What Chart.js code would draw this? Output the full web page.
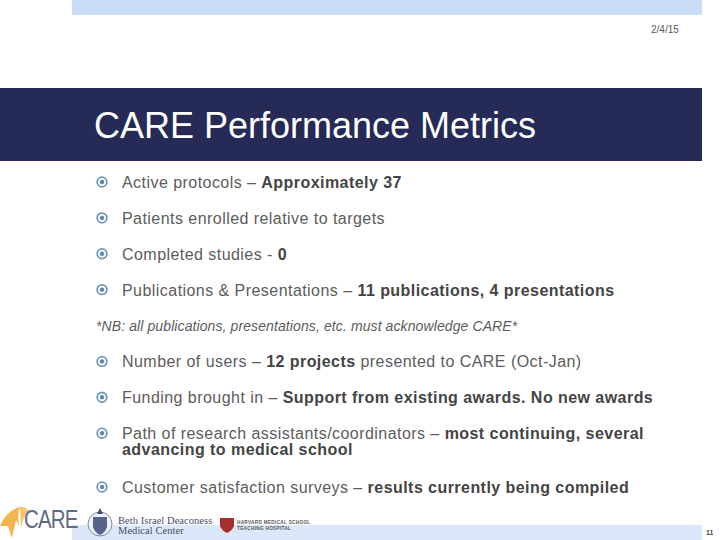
<!DOCTYPE html>
<html>
<head>
<meta charset="utf-8">
<title>CARE Performance Metrics</title>
<script src="https://cdn.jsdelivr.net/npm/chart.js@4/dist/chart.umd.min.js"></script>
<style>
  html, body { margin: 0; padding: 0; background: #fff; }
  #slide { position: relative; width: 720px; height: 540px; overflow: hidden; font-family: "Liberation Sans", Arial, sans-serif; }
  #slide div { position: absolute; }
  #bullets { left: 0; top: 0; z-index: 2; }
  #band-top { left: 72px; top: 0; width: 630px; height: 15px; background: #c9ddf9; }
  #band-title { left: 0; top: 88px; width: 702px; height: 73px; background: #252a57; }
  #band-bottom { left: 72px; top: 525px; width: 630px; height: 15px; background: #dce8fa; }
  #title { left: 94px; top: 106px; color: #fff; font-size: 36px; line-height: 40px; white-space: nowrap; }
  #date { left: 651px; top: 24px; color: #595959; font-size: 10px; line-height: 11px; }
  #page { left: 706px; top: 529px; color: #444; font-size: 7px; font-weight: bold; line-height: 8px; }
  .row { left: 122px; color: #5c5c5c; font-size: 16px; line-height: 16px; white-space: nowrap; letter-spacing: 0.45px; }
  .row b { color: #444; letter-spacing: 0.45px; }
  #slide .note { left: 96px; font-size: 14px; font-style: italic; letter-spacing: 0.1px; }
  #care { left: 24px; top: 506px; color: #5f6a86; font-size: 25px; line-height: 26px; letter-spacing: -1px; transform: scaleX(0.82); transform-origin: left top; }
  #bidmc { left: 118px; top: 516px; color: #444d70; font-family: "Liberation Serif", serif; font-size: 10.5px; line-height: 10px; white-space: nowrap; letter-spacing: 0.05px; }
  #hms { left: 237px; top: 520px; color: #555; font-size: 4.7px; line-height: 6px; font-weight: bold; white-space: nowrap; letter-spacing: 0.3px; }
  svg { position: absolute; left: 0; top: 0; }
</style>
</head>
<body>
<div id="slide">
  <div id="band-top"></div>
  <div id="band-title"></div>
  <div id="band-bottom"></div>
  <div id="date"></div>
  <div id="title"></div>
  <div id="page"></div>
  <svg width="720" height="540">
    <path d="M0 526 Q6 511 20 507 Q17 515 19 526 L16 520 L12 538 L8 526 Z" fill="#f4b452"/>
    <path d="M20 507 Q25 506 30 512 Q23 515 21 528 Z" fill="#f6c46c"/>
    <circle cx="100" cy="524" r="12" fill="#eef1f6" stroke="#7d88a6" stroke-width="1"/>
    <path d="M93 517 H107 V527 Q105 533 100 535 Q95 533 93 527 Z" fill="#56628a"/>
    <path d="M100 508 L103 514 H97 Z" fill="#444d70"/>
    <path d="M220 518 H234 V526 Q232 531 227 533 Q222 531 220 526 Z" fill="#a5302f"/>
  </svg>
  <div id="care">CARE</div>
  <div id="bidmc">Beth Israel Deaconess<br>Medical Center</div>
  <div id="hms">HARVARD MEDICAL SCHOOL<br>TEACHING HOSPITAL</div>
  <div id="text-rows"></div>
  <div id="bullets"><canvas id="bullet-chart" width="720" height="540"></canvas></div>
</div>
<script>
const slideTitle = 'CARE Performance Metrics';
const slideDate = '2/4/15';
const slideNumber = '11';

// text of each line, bold part separate. row = half line steps from the first line
const rowNumbers = [0, 2, 4, 6, 8, 10, 12, 14, 14.9, 17];
const rowPlain = [
  'Active protocols – ',
  'Patients enrolled relative to targets',
  'Completed studies - ',
  'Publications & Presentations – ',
  '*NB: all publications, presentations, etc. must acknowledge CARE*',
  'Number of users – ',
  'Funding brought in – ',
  'Path of research assistants/coordinators – ',
  '',
  'Customer satisfaction surveys – '
];
const rowBold = [
  'Approximately 37',
  '',
  '0',
  '11 publications, 4 presentations',
  '',
  '12 projects',
  'Support from existing awards. No new awards',
  'most continuing, several',
  'advancing to medical school',
  'results currently being compiled'
];
const rowTail = ['', '', '', '', '', ' presented to CARE (Oct-Jan)', '', '', '', ''];
// rows with a bullet in front
const bulletRows = [0, 2, 4, 6, 10, 12, 14, 17];

document.getElementById('title').textContent = slideTitle;
document.getElementById('date').textContent = slideDate;
document.getElementById('page').textContent = slideNumber;

const firstRowY = 182;
const lastRowY = 487;
const rowStep = (lastRowY - firstRowY) / 17;
const textRows = document.getElementById('text-rows');
rowNumbers.forEach((row, i) => {
  const el = document.createElement('div');
  el.className = row === 8 ? 'row note' : 'row';
  el.style.top = (firstRowY + row * rowStep - (row === 8 ? 8 : 7)) + 'px';
  el.append(rowPlain[i]);
  if (rowBold[i]) {
    const b = document.createElement('b');
    b.textContent = rowBold[i];
    el.appendChild(b);
  }
  el.append(rowTail[i]);
  textRows.appendChild(el);
});

const bulletPoints = bulletRows.map(row => ({ x: 0, y: row }));

new Chart(document.getElementById('bullet-chart'), {
  type: 'scatter',
  data: {
    datasets: [
      { data: bulletPoints, pointRadius: 2.2, pointBackgroundColor: '#5d86ab', pointBorderWidth: 0, pointHoverRadius: 2.2 },
      { data: bulletPoints, pointRadius: 4.8, pointBackgroundColor: 'rgba(0,0,0,0)', pointBorderColor: '#6f97ba', pointBorderWidth: 1.8 }
    ]
  },
  options: {
    responsive: false,
    animation: false,
    events: [],
    layout: { padding: { left: 102, right: 32, top: firstRowY, bottom: 540 - lastRowY } },
    plugins: { legend: { display: false }, tooltip: { enabled: false } },
    scales: {
      x: { display: false, min: 0, max: 1 },
      y: { display: false, min: 0, max: 17, reverse: true }
    },
    clip: false
  }
});
</script>
</body>
</html>
